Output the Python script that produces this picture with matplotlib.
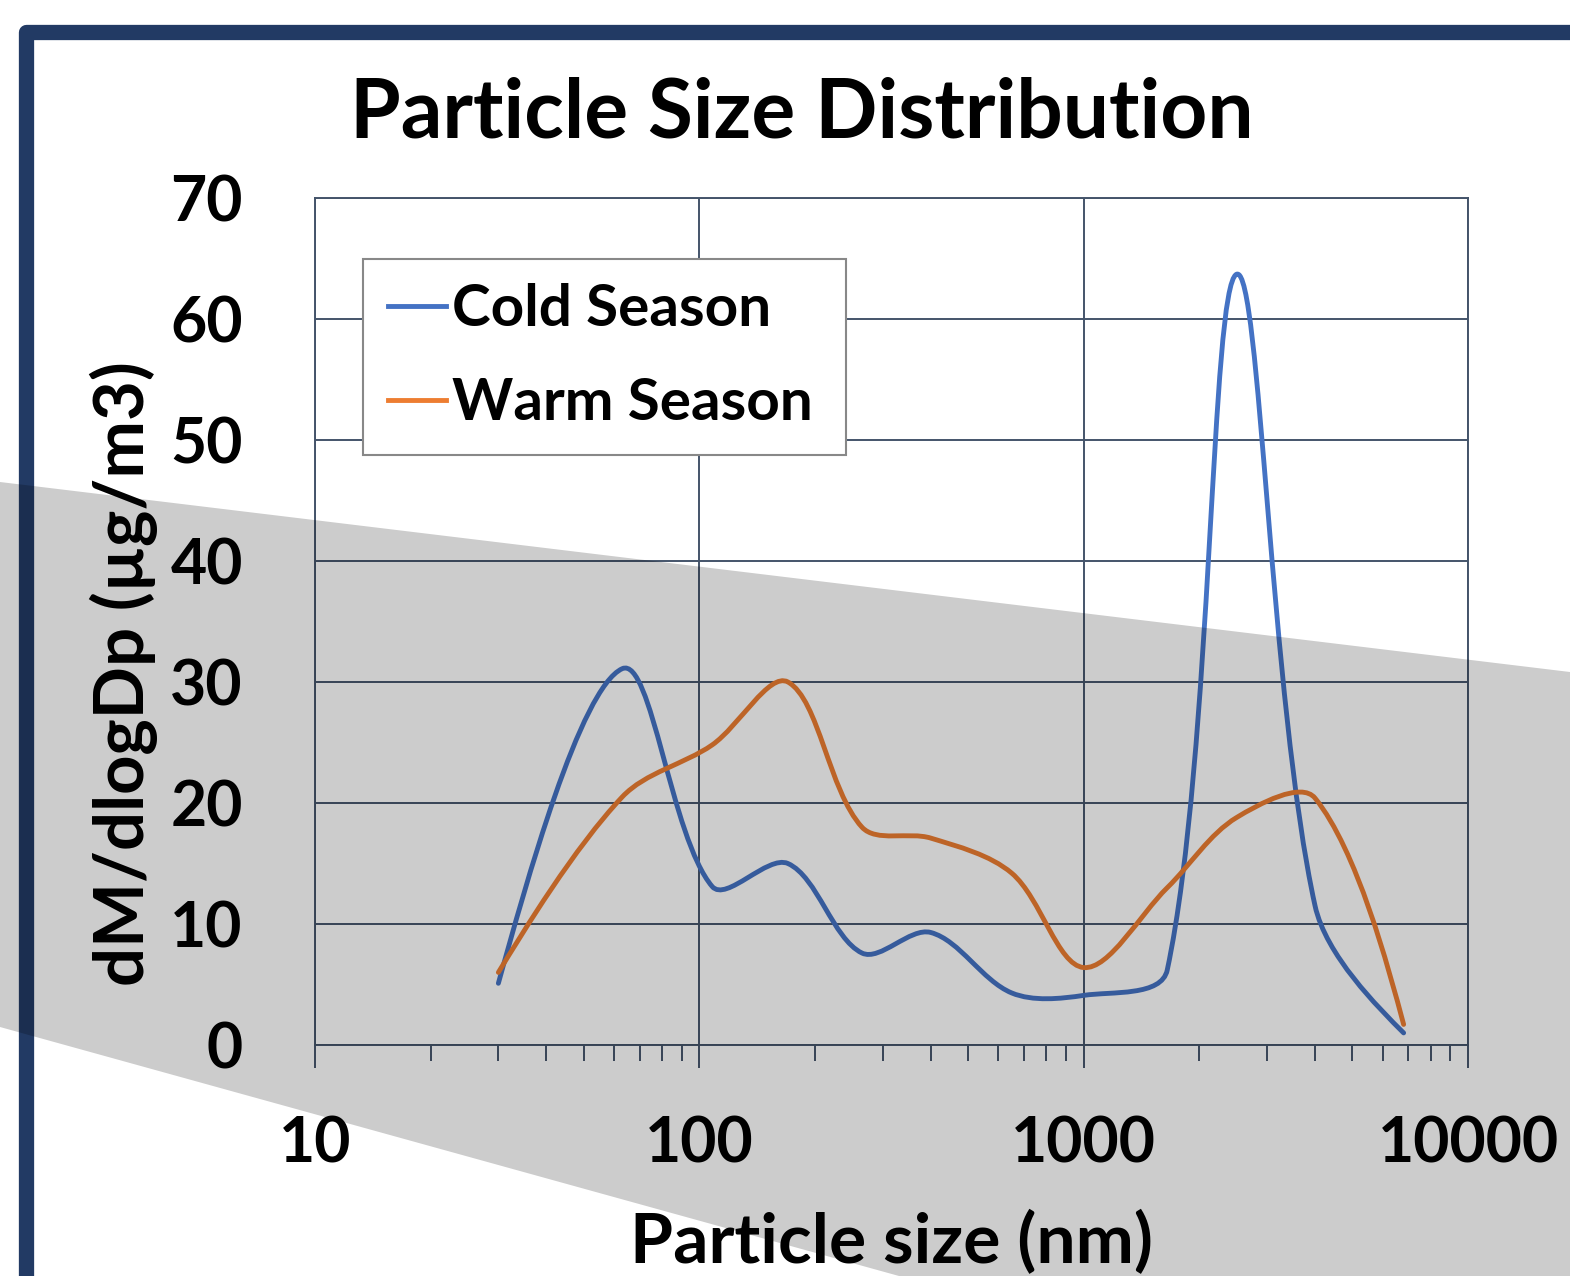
import numpy as np
import matplotlib.pyplot as plt
from matplotlib.path import Path
from matplotlib.patches import PathPatch, Polygon
from matplotlib.lines import Line2D
from matplotlib.ticker import NullFormatter

# DATA (impactor stage sizes, nm)
size_nm = [30, 63, 108, 170, 265, 400, 650, 1000, 1650, 2500, 4000, 6800]
cold_season = [5.1, 31.1, 13.1, 15.0, 7.6, 9.3, 4.3, 4.1, 6.2, 63.7, 11.5, 1.0]
warm_season = [6.0, 20.5, 24.8, 30.0, 18.0, 17.1, 14.2, 6.4, 13.0, 18.8, 20.4, 1.7]

x_ticks = [10, 100, 1000, 10000]
x_tick_labels = ["10", "100", "1000", "10000"]
y_ticks = [0, 10, 20, 30, 40, 50, 60, 70]

BLUE = "#4472C4"
ORANGE = "#ED7D31"
SLATE = "#44546A"
NAVY = "#223A64"

W, H = 1570, 1276
DECADE_PX, UNIT_PX = 384.3, 12.1   # screen scale, used only to weight the smoothing


def smooth_path(x, y):
    """Excel-style smoothed line: cubic bezier segments, control points
    from the neighbouring points, weighted by segment length on screen."""
    pts = np.column_stack([np.log10(np.asarray(x, float)) * DECADE_PX,
                           np.asarray(y, float) * UNIT_PX])
    n = len(pts)
    c_in = pts.copy()
    c_out = pts.copy()
    for i in range(1, n - 1):
        d0 = np.linalg.norm(pts[i] - pts[i - 1])
        d1 = np.linalg.norm(pts[i + 1] - pts[i])
        tan = pts[i + 1] - pts[i - 1]
        c_in[i] = pts[i] - tan * d0 / (d0 + d1) / 3
        c_out[i] = pts[i] + tan * d1 / (d0 + d1) / 3
    c_out[0] = pts[0] + (c_in[1] - pts[0]) / 3
    c_in[-1] = pts[-1] + (c_out[-2] - pts[-1]) / 3
    verts = [pts[0]]
    codes = [Path.MOVETO]
    for i in range(n - 1):
        verts += [c_out[i], c_in[i + 1], pts[i + 1]]
        codes += [Path.CURVE4] * 3
    verts = np.array(verts)
    verts[:, 0] = 10 ** (verts[:, 0] / DECADE_PX)
    verts[:, 1] = verts[:, 1] / UNIT_PX
    return Path(verts, codes)


plt.rcParams['font.family'] = ['Lato', 'DejaVu Sans']
plt.rcParams['font.weight'] = 'bold'

fig = plt.figure(figsize=(W / 100, H / 100), dpi=100)
fig.patch.set_facecolor('white')

ax = fig.add_axes([315 / W, 1 - 1045 / H, (1468 - 315) / W, (1045 - 198) / H])
ax.set_xscale('log')
ax.set_xlim(10, 10000)
ax.set_ylim(0, 70)

for vals, col in [(cold_season, BLUE), (warm_season, ORANGE)]:
    ax.add_patch(PathPatch(smooth_path(size_nm, vals), fill=False, edgecolor=col,
                           lw=3.5, capstyle='round', joinstyle='round', zorder=3))

ax.set_xticks(x_ticks, labels=x_tick_labels)
ax.set_yticks(y_ticks)
ax.xaxis.set_minor_formatter(NullFormatter())
ax.grid(True, which='major', color=SLATE, lw=1.4)
ax.set_axisbelow(True)
for s in ax.spines.values():
    s.set_color(SLATE)
    s.set_linewidth(1.4)

ax.tick_params(axis='x', which='major', direction='out', length=16.5, width=1.4,
               color=SLATE, pad=34, labelsize=45)
ax.tick_params(axis='x', which='minor', direction='out', length=11.5, width=1.4, color=SLATE)
ax.tick_params(axis='y', length=0, pad=52, labelsize=45)

handles = [Line2D([], [], color=BLUE, lw=3.5), Line2D([], [], color=ORANGE, lw=3.5)]
leg = ax.legend(handles, ["Cold Season", "Warm Season"], loc='upper left',
                bbox_to_anchor=(48 / 1153, (1045 - 259) / 847, 483 / 1153, 0.0),
                mode='expand', borderaxespad=0,
                fontsize=42, handlelength=1.0, handletextpad=0.1, labelspacing=0.7,
                borderpad=0.42, fancybox=False, framealpha=1)
leg.get_frame().set_edgecolor('#888888')
leg.get_frame().set_linewidth(1.5)

fig.text(802 / W, 1 - 137 / H, "Particle Size Distribution", ha='center', va='baseline',
         fontsize=59, fontweight='bold')
fig.text(891 / W, 1 - 1263 / H, "Particle size (nm)", ha='center', va='baseline',
         fontsize=50, fontweight='bold')
fig.text(124 / W, 1 - 674 / H, "dM/dlogDp (µg/m3)", ha='center', va='center',
         rotation=90, fontsize=49.5, fontweight='bold')

# slide frame (navy) and grey diagonal band drawn over everything
fig.add_artist(Line2D([26 / W, 26 / W, 1.1], [-0.1, 1 - 32 / H, 1 - 32 / H],
                      transform=fig.transFigure, color=NAVY, lw=11,
                      solid_joinstyle='round', zorder=5))
band = [(0, 482), (W, 672), (W, H), (899, H), (0, 1027)]
fig.add_artist(Polygon([(x / W, 1 - y / H) for x, y in band], closed=True,
                       transform=fig.transFigure, facecolor='black', alpha=0.2,
                       edgecolor='none', zorder=10))

fig.savefig("out.png", dpi=100)
